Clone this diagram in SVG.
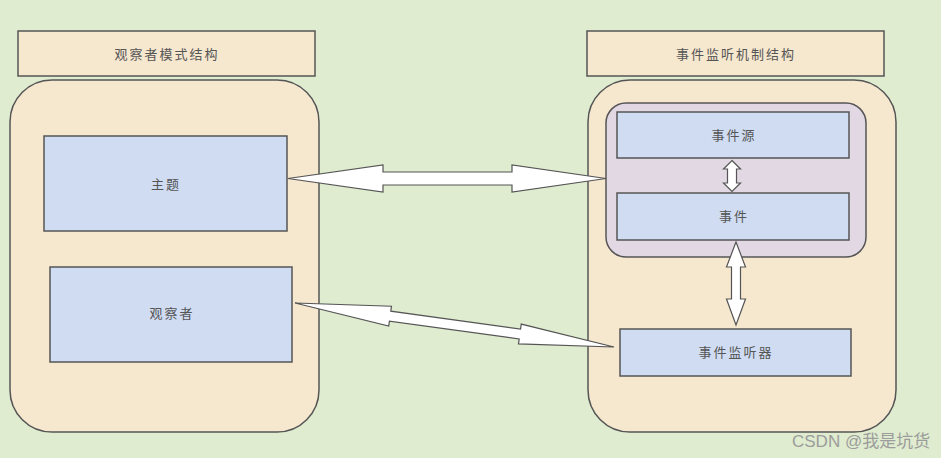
<svg xmlns="http://www.w3.org/2000/svg" width="944" height="460" viewBox="0 0 944 460">
<style>
.bg{fill:#dfeccf}
.title{fill:#f6e7cf;stroke:#555;stroke-width:1.5}
.cont{fill:#f6e7cf;stroke:#555;stroke-width:1.5}
.inner{fill:#e1d8e3;stroke:#555;stroke-width:1.5}
.box{fill:#cfdcf2;stroke:#555;stroke-width:1.5}
.arrow{fill:#ffffff;stroke:#555;stroke-width:1.2;stroke-linejoin:miter}
.t{font-family:"Noto Sans CJK SC","Noto Sans",sans-serif;font-size:13px;letter-spacing:2px;fill:#555;text-anchor:middle;dominant-baseline:central}
.wm{font-family:"Liberation Sans","Noto Sans CJK SC",sans-serif;font-size:17px;fill:#9c9c9c}
</style>
<rect x="0" y="0" width="944" height="460" fill="#ffffff"/>
<rect class="bg" x="0" y="0" width="941" height="458"/>

<g id="observer-pattern">
  <rect class="title" x="18" y="31" width="297" height="45"/>
  <text class="t" x="167" y="53">观察者模式结构</text>
  <rect class="cont" x="10" y="80" width="309" height="352" rx="42" ry="42"/>
</g>
<g id="subject">
  <rect class="box" x="44" y="136" width="243" height="95"/>
  <text class="t" x="166" y="183">主题</text>
</g>
<g id="observer">
  <rect class="box" x="50" y="267" width="242" height="95"/>
  <text class="t" x="172" y="312">观察者</text>
</g>

<g id="event-listener-mechanism">
  <rect class="title" x="587" y="31" width="297" height="45"/>
  <text class="t" x="736" y="53">事件监听机制结构</text>
  <rect class="cont" x="588" y="80" width="308" height="352" rx="42" ry="42"/>
  <rect class="inner" x="606" y="103" width="260" height="154" rx="20" ry="20"/>
</g>
<g id="event-source">
  <rect class="box" x="617" y="112" width="232" height="46"/>
  <text class="t" x="734" y="134">事件源</text>
</g>
<g id="event">
  <rect class="box" x="617" y="193" width="232" height="47"/>
  <text class="t" x="734" y="215">事件</text>
</g>
<g id="event-listener">
  <rect class="box" x="620" y="329" width="231" height="47"/>
  <text class="t" x="736" y="351">事件监听器</text>
</g>

<g id="connectors">
  <polygon class="arrow" points="288,178.5 383,165 383,172 512,172 512,165 606,178.5 512,192 512,185 383,185 383,192"/>
  <polygon class="arrow" transform="translate(295,303) rotate(7.85)" points="0,0 96,-10 96,-5 227,-5 227,-10 322,0 227,10 227,5 96,5 96,10"/>
  <polygon class="arrow" points="732,160.5 740.5,169 736.5,169 736.5,183 740.5,183 732,191.5 723.5,183 727.5,183 727.5,169 723.5,169"/>
  <polygon class="arrow" points="736,242 745.5,267 740.5,267 740.5,299 745.5,299 736,325 726.5,299 731.5,299 731.5,267 726.5,267"/>
</g>

<text class="wm" x="792" y="447">CSDN @我是坑货</text>
</svg>
